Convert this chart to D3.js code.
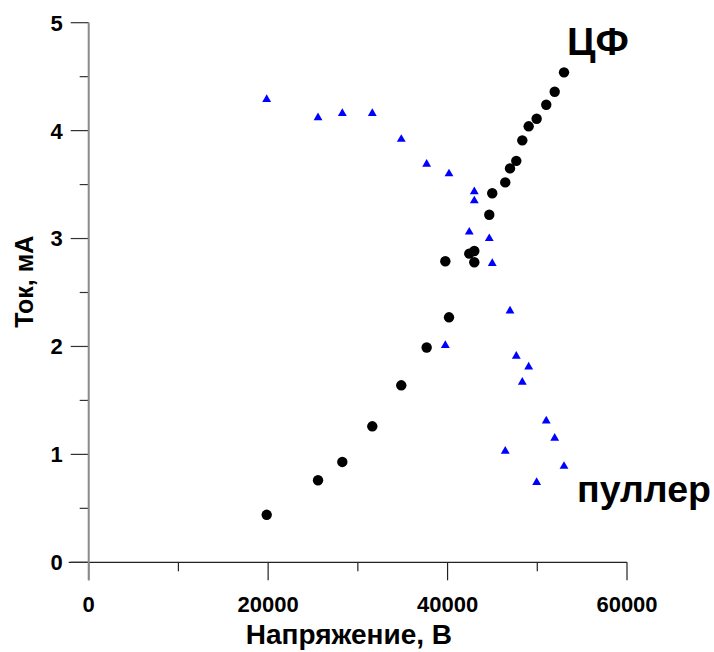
<!DOCTYPE html>
<html>
<head>
<meta charset="utf-8">
<script src="https://cdn.jsdelivr.net/npm/d3@7"></script>
<style>
  html, body { margin: 0; padding: 0; background: #fff; }
  svg { display: block; font-family: "Liberation Sans", Arial, sans-serif; font-weight: bold; }
</style>
</head>
<body>
<div id="chart"></div>
<script>
/* ---------- Data ---------- */
// voltage, V (shared by both series)
const voltage = [19840, 25560, 28270, 31610, 34840, 37670, 39750, 40160, 42420, 42980, 42980,
                 44650, 44980, 46430, 46960, 47660, 48330, 49040, 49930, 51000, 51940, 52980];
// current of ЦФ, mA
const cfCurrent = [0.44, 0.76, 0.93, 1.26, 1.64, 1.99, 2.79, 2.27, 2.86, 2.885, 2.78,
                   3.22, 3.42, 3.52, 3.65, 3.72, 3.91, 4.04, 4.11, 4.24, 4.36, 4.54];
// current of пуллер, mA
const pullerCurrent = [4.29, 4.12, 4.16, 4.16, 3.92, 3.69, 2.01, 3.60, 3.06, 3.435, 3.35,
                       3.00, 2.77, 1.03, 2.33, 1.91, 1.67, 1.81, 0.74, 1.31, 1.15, 0.89];

const xMajor = [0, 20000, 40000, 60000];
const xMinor = [10000, 30000, 50000];
const yMajor = [0, 1, 2, 3, 4, 5];
const yMinor = [0.5, 1.5, 2.5, 3.5, 4.5];

const xTitle = "Напряжение, В";
const yTitle = "Ток, мА";
const cfLabel = "ЦФ";
const pullerLabel = "пуллер";

/* ---------- Layout ---------- */
const W = 714, H = 652;
const M = { top: 22.7, right: 87, bottom: 89.7, left: 88.7 };

const svg = d3.select("#chart").append("svg")
  .attr("width", W).attr("height", H)
  .attr("viewBox", `0 0 ${W} ${H}`);

const x = d3.scaleLinear().domain([0, 60000]).range([M.left, W - M.right]);
const y = d3.scaleLinear().domain([0, 5]).range([H - M.bottom, M.top]);

const y0 = y(0), x0 = x(0);

/* ---------- Axes ---------- */
// x axis: major + minor ticks pointing down
const gx = svg.append("g").attr("transform", `translate(0,${y0})`);
gx.append("line")
  .attr("x1", x0 - 20).attr("x2", x(60000))
  .attr("stroke", "#222").attr("stroke-width", 1.2);
gx.selectAll(".major").data(xMajor).join("line")
  .attr("x1", d => x(d)).attr("x2", d => x(d))
  .attr("y1", 0).attr("y2", 18)
  .attr("stroke", "#222").attr("stroke-width", 1.2);
gx.selectAll(".minor").data(xMinor).join("line")
  .attr("x1", d => x(d)).attr("x2", d => x(d))
  .attr("y1", 0).attr("y2", 9)
  .attr("stroke", "#222").attr("stroke-width", 1.2);
gx.selectAll("text").data(xMajor).join("text")
  .attr("x", d => x(d)).attr("y", 50)
  .attr("text-anchor", "middle")
  .attr("font-size", 22)
  .attr("fill", "#000")
  .text(d => d);

// y axis: major + minor ticks pointing left
const gy = svg.append("g").attr("transform", `translate(${x0},0)`);
gy.selectAll(".major").data(yMajor).join("line")
  .attr("x1", -18).attr("x2", 0)
  .attr("y1", d => y(d)).attr("y2", d => y(d))
  .attr("stroke", "#333").attr("stroke-width", 1.2);
gy.selectAll(".minor").data(yMinor).join("line")
  .attr("x1", -9).attr("x2", 0)
  .attr("y1", d => y(d)).attr("y2", d => y(d))
  .attr("stroke", "#333").attr("stroke-width", 1.2);
gy.append("line")
  .attr("x1", 0).attr("x2", 0)
  .attr("y1", y(5)).attr("y2", y0 + 18)
  .attr("stroke", "#8a8a8a").attr("stroke-width", 2);
gy.selectAll("text").data(yMajor).join("text")
  .attr("x", -26).attr("y", d => y(d))
  .attr("dy", "0.36em")
  .attr("text-anchor", "end")
  .attr("font-size", 22)
  .attr("fill", "#000")
  .text(d => d);

// axis titles
svg.append("text")
  .attr("x", x(30000) - 9).attr("y", 644)
  .attr("text-anchor", "middle")
  .attr("font-size", 28)
  .text(xTitle);

svg.append("text")
  .attr("transform", `translate(33,${y(2.6)}) rotate(-90)`)
  .attr("text-anchor", "middle")
  .attr("font-size", 25)
  .text(yTitle);

/* ---------- Points ---------- */
const pts = voltage.map((v, i) => ({ v, cf: cfCurrent[i], puller: pullerCurrent[i] }));

svg.append("g").selectAll("path").data(pts).join("path")
  .attr("d", d3.symbol(d3.symbolTriangle, 34))
  .attr("transform", d => `translate(${x(d.v)},${y(d.puller)})`)
  .attr("fill", "#0000ff");

svg.append("g").selectAll("circle").data(pts).join("circle")
  .attr("cx", d => x(d.v))
  .attr("cy", d => y(d.cf))
  .attr("r", 5.2)
  .attr("fill", "#000");

/* ---------- Series labels ---------- */
svg.append("text")
  .attr("x", 567).attr("y", 55)
  .attr("font-size", 39)
  .text(cfLabel);

svg.append("text")
  .attr("x", 577).attr("y", 502)
  .attr("font-size", 37.5)
  .text(pullerLabel);
</script>
</body>
</html>
